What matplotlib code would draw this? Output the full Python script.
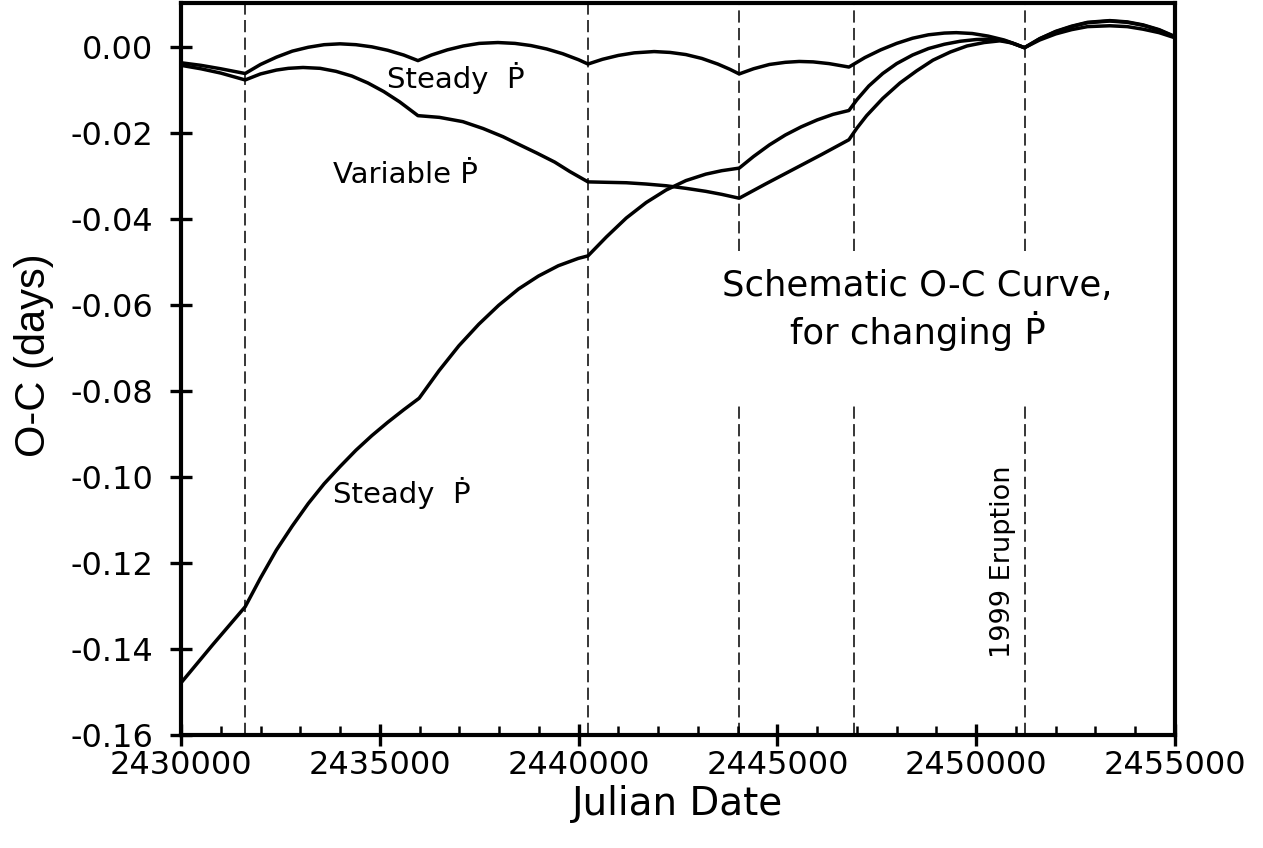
import numpy as np
import matplotlib
matplotlib.use("Agg")
import matplotlib.pyplot as plt
from matplotlib.ticker import MultipleLocator, FormatStrFormatter

plt.rcParams['font.family'] = ['DejaVu Sans']
plt.rcParams['axes.unicode_minus'] = False

# --------------------------------------------------------------------
# data (JD, O-C in days)

# top curve, steady Pdot
jd_steady_top = [2430000, 2430500, 2431000, 2431614,
                 2432000, 2432400, 2432800, 2433200, 2433600, 2434000, 2434400, 2434800, 2435200, 2435600, 2435960,
                 2436300, 2436700, 2437100, 2437500, 2437970, 2438400, 2438800, 2439200, 2439600, 2440000, 2440237,
                 2440600, 2441000, 2441400, 2441900, 2442300, 2442700, 2443100, 2443500, 2443800, 2444040,
                 2444400, 2444800, 2445200, 2445550, 2445900, 2446300, 2446800,
                 2447200, 2447600, 2448000, 2448400, 2448800, 2449200, 2449500, 2449900, 2450300, 2450700, 2451000, 2451215,
                 2451600, 2452000, 2452400, 2452800, 2453360, 2453800, 2454200, 2454600, 2455000]
oc_steady_top = [-0.0037, -0.0043, -0.0051, -0.0062,
                 -0.0041, -0.0024, -0.0010, -0.0001, 0.0005, 0.0007, 0.0005, 0.0000, -0.0008, -0.0019, -0.0032,
                 -0.0019, -0.0007, 0.0002, 0.0008, 0.0010, 0.0008, 0.0003, -0.0005, -0.0016, -0.0030, -0.0040,
                 -0.0029, -0.0020, -0.0014, -0.0011, -0.0013, -0.0018, -0.0027, -0.0040, -0.0052, -0.0063,
                 -0.0051, -0.0041, -0.0036, -0.0034, -0.0035, -0.0039, -0.0047,
                 -0.0025, -0.0007, 0.0008, 0.0020, 0.0028, 0.0032, 0.0033, 0.0031, 0.0025, 0.0016, 0.0006, -0.0002,
                 0.0019, 0.0036, 0.0048, 0.0057, 0.0061, 0.0058, 0.0051, 0.0040, 0.0024]

# middle curve, variable Pdot
jd_variable = [2430000, 2430500, 2431000, 2431614,
               2432000, 2432400, 2432700, 2433070, 2433500, 2433900, 2434300, 2434700, 2435100, 2435500, 2435960,
               2436500, 2437090, 2437600, 2438100, 2438500, 2438950, 2439400, 2439780, 2440237,
               2440700, 2441200, 2441700, 2442200, 2442700, 2443200, 2443600, 2444040,
               2444700, 2445400, 2446100, 2446800,
               2447000, 2447245, 2447650, 2448084, 2448500, 2448913, 2449350, 2449768, 2450200, 2450600, 2450900, 2451215,
               2451600, 2452000, 2452400, 2452800, 2453360, 2453800, 2454200, 2454600, 2455000]
oc_variable = [-0.0043, -0.0051, -0.0061, -0.0077,
               -0.0063, -0.0054, -0.0050, -0.0048, -0.0050, -0.0057, -0.0068, -0.0084, -0.0104, -0.0128, -0.0160,
               -0.0164, -0.0174, -0.0190, -0.0209, -0.0227, -0.0247, -0.0268, -0.0290, -0.0314,
               -0.0315, -0.0316, -0.0319, -0.0323, -0.0329, -0.0336, -0.0343, -0.0352,
               -0.0319, -0.0285, -0.0251, -0.0216,
               -0.0189, -0.0160, -0.0120, -0.0084, -0.0056, -0.0031, -0.0012, 0.0002, 0.0010, 0.0014, 0.0009, -0.0002,
               0.0016, 0.0030, 0.0040, 0.0047, 0.0049, 0.0047, 0.0041, 0.0033, 0.0021]

# bottom curve, steady Pdot
jd_steady_low = [2430000, 2430800, 2431614,
                 2432000, 2432400, 2432800, 2433200, 2433600, 2434000, 2434400, 2434800, 2435200, 2435600, 2435990,
                 2436490, 2436990, 2437490, 2437990, 2438490, 2438990, 2439490, 2439990, 2440237,
                 2440700, 2441200, 2441700, 2442200, 2442700, 2443200, 2443600, 2444040,
                 2444400, 2444800, 2445200, 2445600, 2446000, 2446400, 2446800,
                 2447000, 2447300, 2447650, 2448000, 2448400, 2448800, 2449200, 2449600, 2450000, 2450400, 2450800, 2451215,
                 2451600, 2452000, 2452400, 2452800, 2453360, 2453800, 2454200, 2454600, 2455000]
oc_steady_low = [-0.1479, -0.1390, -0.1302,
                 -0.1235, -0.1170, -0.1114, -0.1062, -0.1016, -0.0976, -0.0938, -0.0904, -0.0873, -0.0844, -0.0817,
                 -0.0753, -0.0695, -0.0645, -0.0601, -0.0563, -0.0533, -0.0509, -0.0492, -0.0486,
                 -0.0442, -0.0398, -0.0362, -0.0333, -0.0311, -0.0296, -0.0288, -0.0282,
                 -0.0255, -0.0228, -0.0205, -0.0186, -0.0170, -0.0157, -0.0148,
                 -0.0123, -0.0091, -0.0062, -0.0039, -0.0019, -0.0004, 0.0006, 0.0013, 0.0017, 0.0018, 0.0012, -0.0002,
                 0.0019, 0.0035, 0.0047, 0.0056, 0.0060, 0.0057, 0.0050, 0.0039, 0.0023]

# eruption dates (dashed lines), and which ones are broken by the title text
eruptions = [2431614, 2440237, 2444040, 2446931, 2451235]
broken = [False, False, True, True, True]
gap_lo, gap_hi = -0.0825, -0.0475

# --------------------------------------------------------------------
fig = plt.figure(figsize=(12.63, 8.48), dpi=100)
ax = fig.add_axes([0.1433, 0.1333, 0.7870, 0.8632])

ylo, yhi = -0.16, 0.0102
dash = (0, (8, 3.5))
for jd, br in zip(eruptions, broken):
	if br:
		ax.vlines(jd, gap_hi, yhi, colors="black", linestyles=dash, linewidth=1.1)
		ax.vlines(jd, ylo, gap_lo, colors="black", linestyles=dash, linewidth=1.1)
	else:
		ax.vlines(jd, ylo, yhi, colors="black", linestyles=dash, linewidth=1.1)

for xs, ys in [(jd_steady_top, oc_steady_top), (jd_variable, oc_variable), (jd_steady_low, oc_steady_low)]:
	ax.plot(xs, ys, color="black", linewidth=2.5, solid_joinstyle="round")

ax.set_xlim(2430000, 2455000)
ax.set_ylim(ylo, yhi)

# labels inside the plot
ax.text(2435181, -0.0095, "Steady  \u1e56", fontsize=21, ha="left", va="baseline")
ax.text(2433823, -0.0316, "Variable \u1e56", fontsize=21, ha="left", va="baseline")
ax.text(2433823, -0.1060, "Steady  \u1e56", fontsize=21, ha="left", va="baseline")
ax.text(2448530, -0.0612, "Schematic O-C Curve,\nfor changing \u1e56", fontsize=25.5,
		ha="center", va="center", multialignment="center", linespacing=1.25)
ax.text(2450680, -0.1198, "1999 Eruption", fontsize=19.5, rotation=90, ha="center", va="center")

# ticks and spines
ax.xaxis.set_major_locator(MultipleLocator(5000))
ax.xaxis.set_minor_locator(MultipleLocator(1000))
ax.yaxis.set_major_locator(MultipleLocator(0.02))
ax.xaxis.set_major_formatter(FormatStrFormatter('%d'))
ax.yaxis.set_major_formatter(FormatStrFormatter('%.2f'))
ax.tick_params(which="major", direction="inout", length=16, width=2.4, labelsize=23, top=False, right=False)
ax.tick_params(axis="x", which="major", pad=3)
ax.tick_params(axis="y", which="major", pad=12)
ax.tick_params(axis="x", which="minor", direction="in", length=6.5, width=1.8, top=False)
for s in ax.spines.values():
	s.set_linewidth(3)

ax.set_xlabel("Julian Date", fontsize=28)
ax.set_ylabel("O-C (days)", fontsize=30, family="Liberation Sans")
ax.xaxis.set_label_coords(0.5, -0.068)
ax.yaxis.set_label_coords(-0.128, 0.519)

fig.savefig("out.png", dpi=100)
